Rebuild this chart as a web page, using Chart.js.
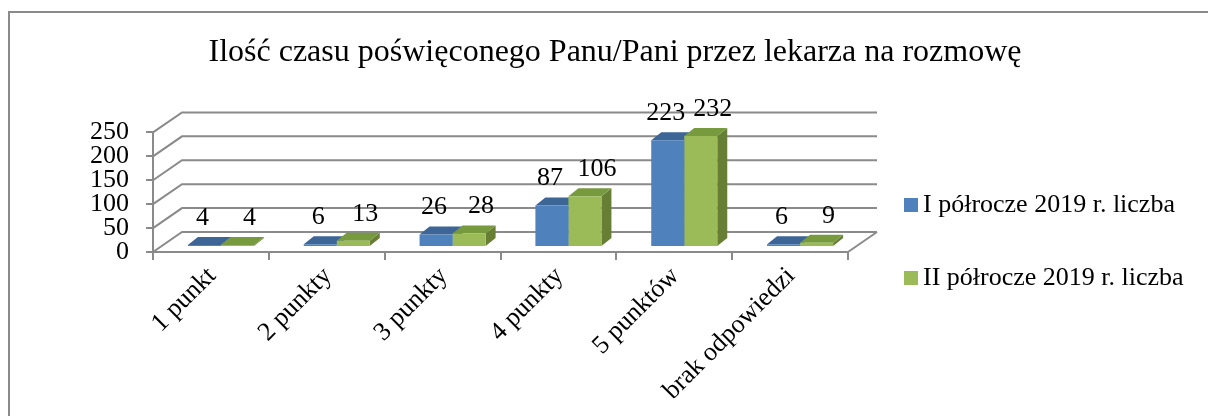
<!DOCTYPE html>
<html>
<head>
<meta charset="utf-8">
<script src="https://cdn.jsdelivr.net/npm/chart.js@4.4.1/dist/chart.umd.min.js"></script>
<style>
  body { margin: 0; background: #fff; }
  #wrap { width: 1208px; height: 416px; }
</style>
</head>
<body>
<div id="wrap"><canvas id="myChart" width="1208" height="416"></canvas></div>
<script>
// dane z wykresu
const categories = ['1 punkt', '2 punkty', '3 punkty', '4 punkty', '5 punktów', 'brak odpowiedzi'];
const firstHalf = [4, 6, 26, 87, 223, 6];
const secondHalf = [4, 13, 28, 106, 232, 9];
const seriesNames = ['I półrocze 2019 r. liczba', 'II półrocze 2019 r. liczba'];
const yMin = 0;
const yMax = 250;
const yStep = 50;

const FONT = "'Liberation Serif', 'Times New Roman', serif";
const GRID = '#8a8a8a';
// przesunięcia "3D"
const WALL_X = 29, WALL_Y = -20;    // głębokość ścian
const SHIFT_X = 10, SHIFT_Y = -5;   // słupki wsunięte w głąb
const DEPTH_X = 10, DEPTH_Y = -8;   // grubość słupka

const faceColors = [
  { top: '#3d6596', side: '#385d8a' },
  { top: '#779a3e', side: '#667f35' }
];
const labelShift = [-2, 12];

const fake3d = {
  id: 'fake3d',
  beforeDraw(chart) {
    const ctx = chart.ctx;
    ctx.save();
    ctx.strokeStyle = GRID;
    ctx.lineWidth = 2;
    ctx.strokeRect(9, 12, 1220, 420);
    ctx.restore();
  },
  beforeDatasetsDraw(chart) {
    const { ctx, chartArea: a, scales: { y } } = chart;
    ctx.save();
    ctx.strokeStyle = GRID;
    ctx.lineWidth = 2;
    y.ticks.forEach(t => {
      const py = y.getPixelForValue(t.value);
      ctx.beginPath();
      ctx.moveTo(a.left, py);
      ctx.lineTo(a.left + WALL_X, py + WALL_Y);
      ctx.lineTo(a.right + WALL_X, py + WALL_Y);
      ctx.stroke();
    });
    ctx.beginPath();
    ctx.moveTo(a.right, a.bottom);
    ctx.lineTo(a.right + WALL_X, a.bottom + WALL_Y);
    ctx.stroke();
    ctx.restore();

    ctx.save();
    ctx.translate(SHIFT_X, SHIFT_Y);
    chart.data.datasets.forEach((ds, i) => {
      const meta = chart.getDatasetMeta(i);
      meta.data.forEach(bar => {
        const { x, y: top, base, width } = bar.getProps(['x', 'y', 'base', 'width'], true);
        const l = x - width / 2, r = x + width / 2;
        // bok
        ctx.fillStyle = faceColors[i].side;
        ctx.beginPath();
        ctx.moveTo(r, top);
        ctx.lineTo(r + DEPTH_X, top + DEPTH_Y);
        ctx.lineTo(r + DEPTH_X, base + DEPTH_Y);
        ctx.lineTo(r, base);
        ctx.closePath();
        ctx.fill();
        // góra
        ctx.fillStyle = faceColors[i].top;
        ctx.beginPath();
        ctx.moveTo(l, top);
        ctx.lineTo(r, top);
        ctx.lineTo(r + DEPTH_X, top + DEPTH_Y);
        ctx.lineTo(l + DEPTH_X, top + DEPTH_Y);
        ctx.closePath();
        ctx.fill();
      });
    });
  },
  afterDatasetsDraw(chart) {
    const ctx = chart.ctx;
    ctx.restore();

    // etykiety wartości
    ctx.save();
    ctx.font = '26px ' + FONT;
    ctx.fillStyle = '#000';
    ctx.textAlign = 'center';
    ctx.textBaseline = 'middle';
    chart.data.datasets.forEach((ds, i) => {
      chart.getDatasetMeta(i).data.forEach((bar, j) => {
        const { x, y: top } = bar.getProps(['x', 'y'], true);
        ctx.fillText(String(ds.data[j]), x + SHIFT_X + labelShift[i], top + SHIFT_Y + DEPTH_Y - 19);
      });
    });

    // legenda
    const legendY = [205, 278];
    chart.data.datasets.forEach((ds, i) => {
      ctx.fillStyle = ds.backgroundColor;
      ctx.fillRect(904, legendY[i] - 7, 14, 14);
      ctx.fillStyle = '#000';
      ctx.textAlign = 'left';
      ctx.fillText(ds.label, 923, legendY[i]);
    });
    ctx.restore();
  }
};

const ctx = document.getElementById('myChart').getContext('2d');
const chart = new Chart(ctx, {
  type: 'bar',
  data: {
    labels: categories,
    datasets: [
      { label: seriesNames[0], data: firstHalf, backgroundColor: '#4f81bd', clip: false },
      { label: seriesNames[1], data: secondHalf, backgroundColor: '#9bbb59', clip: false }
    ]
  },
  options: {
    responsive: false,
    animation: false,
    events: [],
    layout: { padding: { left: 22, right: 0, top: 0, bottom: 0 } },
    datasets: { bar: { barPercentage: 1, categoryPercentage: 0.57 } },
    plugins: {
      legend: { display: false },
      tooltip: { enabled: false },
      title: {
        display: true,
        text: 'Ilość czasu poświęconego Panu/Pani przez lekarza na rozmowę',
        color: '#000',
        font: { family: FONT, size: 32, weight: 'normal', lineHeight: 1.2 },
        padding: { top: 33, bottom: 61 }
      }
    },
    scales: {
      x: {
        grid: { display: true, drawOnChartArea: false, drawTicks: true, tickLength: 8, color: GRID, lineWidth: 2, offset: true },
        border: { display: true, color: GRID, width: 2 },
        ticks: {
          autoSkip: false,
          minRotation: 45,
          maxRotation: 45,
          labelOffset: 1,
          padding: 1,
          color: '#000',
          font: { family: FONT, size: 26 }
        },
        afterFit(scale) { scale.height = 164; }
      },
      y: {
        min: yMin,
        max: yMax,
        grid: { display: true, drawOnChartArea: false, drawTicks: true, tickLength: 7, color: GRID, lineWidth: 2 },
        border: { display: true, color: GRID, width: 2 },
        ticks: {
          autoSkip: false,
          stepSize: yStep,
          padding: 17,
          color: '#000',
          font: { family: FONT, size: 26 }
        },
        afterFit(scale) { scale.width = 131; }
      },
      // pusta oś tylko po to, żeby zrobić miejsce na legendę
      side: {
        position: 'right',
        display: true,
        grid: { display: false },
        border: { display: false },
        ticks: { display: false },
        afterFit(scale) { scale.width = 360; }
      }
    }
  },
  plugins: [fake3d]
});
</script>
</body>
</html>
